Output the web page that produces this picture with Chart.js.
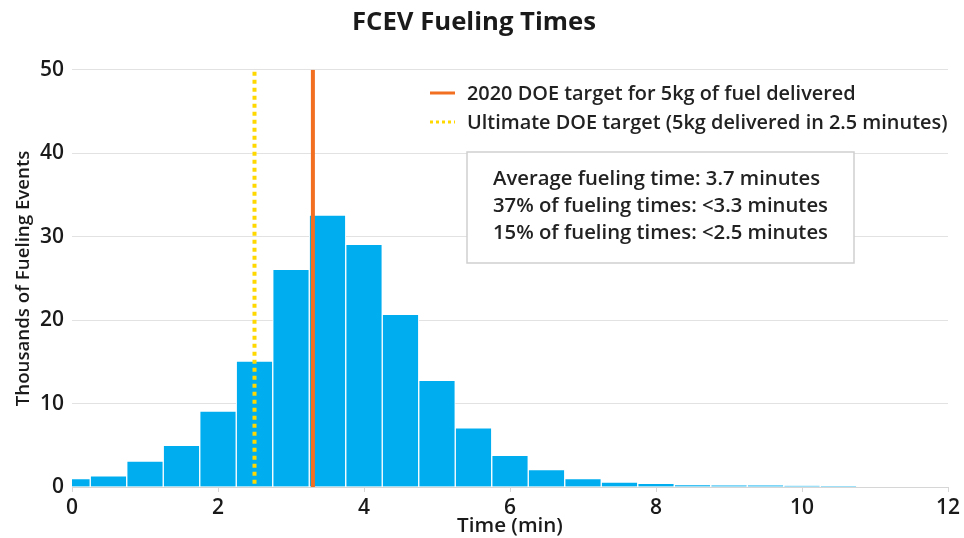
<!DOCTYPE html>
<html>
<head>
<meta charset="utf-8">
<script src="https://cdn.jsdelivr.net/npm/chart.js@4.4.1/dist/chart.umd.min.js"></script>
<style>
  html, body { margin: 0; padding: 0; background: #fff; }
  #wrap { width: 964px; height: 538px; position: relative; }
</style>
</head>
<body>
<div id="wrap"><canvas id="fuelChart"></canvas></div>
<script>
// histogram bins (minutes, bin centres) and counts (thousands of fueling events)
const binCenters = [0, 0.5, 1, 1.5, 2, 2.5, 3, 3.5, 4, 4.5, 5, 5.5, 6, 6.5, 7, 7.5, 8, 8.5, 9, 9.5, 10, 10.5];
const eventCounts = [1.0, 1.35, 3.1, 5.0, 9.1, 15.1, 26.1, 32.6, 29.1, 20.7, 12.8, 7.1, 3.8, 2.1, 1.0, 0.6, 0.45, 0.3, 0.25, 0.25, 0.15, 0.1];

const target2020 = 3.3;
const targetUltimate = 2.5;
const yRange = [0, 50];
const xRange = [0, 12];

const legendLabels = [
    '2020 DOE target for 5kg of fuel delivered',
    'Ultimate DOE target (5kg delivered in 2.5 minutes)'
];
const noteLines = [
    'Average fueling time: 3.7 minutes',
    '37% of fueling times: <3.3 minutes',
    '15% of fueling times: <2.5 minutes'
];

const ORANGE = '#f26f21';
const YELLOW = '#ffd800';
const BLUE = '#00aeef';
const FONT = '"Open Sans", Roboto, sans-serif';
const WEIGHT = '600';

// pick a font size so a text gets roughly the width it has in the original
const measureCtx = document.createElement('canvas').getContext('2d');
function fitSize(text, width, weight) {
    measureCtx.font = weight + ' 20px ' + FONT;
    return Math.round(20 * width / measureCtx.measureText(text).width * 10) / 10;
}

const titleSize = fitSize('FCEV Fueling Times', 244, 'bold');
const legendSize = fitSize(legendLabels[1], 481, WEIGHT);
const noteSize = fitSize(noteLines[1], 335, WEIGHT);
const yTitleSize = fitSize('Thousands of Fueling Events', 256, WEIGHT);
const xTitleSize = fitSize('Time (min)', 106, WEIGHT);
const tickSize = fitSize('10', 24, WEIGHT);

Chart.defaults.font.family = FONT;
Chart.defaults.font.weight = WEIGHT;
Chart.defaults.color = '#222';

// legend + stats box drawn on top of the plot
const notesPlugin = {
    id: 'notes',
    afterDraw(chart) {
        const ctx = chart.ctx;
        ctx.save();
        ctx.textBaseline = 'middle';
        ctx.textAlign = 'left';
        ctx.font = WEIGHT + ' ' + legendSize + 'px ' + FONT;
        ctx.fillStyle = '#222';

        // legend
        ctx.lineWidth = 3;
        ctx.strokeStyle = ORANGE;
        ctx.beginPath();
        ctx.moveTo(430, 93);
        ctx.lineTo(455, 93);
        ctx.stroke();
        ctx.fillText(legendLabels[0], 467, 94);

        ctx.strokeStyle = YELLOW;
        ctx.setLineDash([3, 3]);
        ctx.beginPath();
        ctx.moveTo(430, 122);
        ctx.lineTo(455, 122);
        ctx.stroke();
        ctx.setLineDash([]);
        ctx.fillText(legendLabels[1], 467, 123);

        // stats box
        ctx.fillStyle = '#fff';
        ctx.fillRect(467, 152, 387, 111);
        ctx.strokeStyle = '#cfcfcf';
        ctx.lineWidth = 1.5;
        ctx.strokeRect(467, 152, 387, 111);
        ctx.fillStyle = '#222';
        ctx.font = WEIGHT + ' ' + noteSize + 'px ' + FONT;
        noteLines.forEach(function (t, i) {
            ctx.fillText(t, 493, 179 + i * 27);
        });
        ctx.restore();
    }
};

const ctx = document.getElementById('fuelChart').getContext('2d');
const fuelChart = new Chart(ctx, {
    type: 'bar',
    data: {
        datasets: [
            {
                type: 'line',
                label: legendLabels[0],
                data: [{ x: target2020, y: yRange[0] }, { x: target2020, y: yRange[1] }],
                borderColor: ORANGE,
                borderWidth: 4,
                pointRadius: 0,
                order: 0
            },
            {
                type: 'line',
                label: legendLabels[1],
                data: [{ x: targetUltimate, y: 0.4 }, { x: targetUltimate, y: yRange[1] }],
                borderColor: YELLOW,
                borderWidth: 4,
                borderDash: [4, 4],
                borderCapStyle: 'butt',
                pointRadius: 0,
                order: 1
            },
            {
                label: 'Fueling events',
                data: binCenters.map((x, i) => ({ x: x, y: eventCounts[i] })),
                backgroundColor: BLUE,
                borderColor: '#fff',
                borderWidth: 1,
                barPercentage: 1,
                categoryPercentage: 1,
                clip: 0,
                order: 2
            }
        ]
    },
    options: {
        responsive: true,
        maintainAspectRatio: false,
        animation: false,
        layout: { padding: { left: 0, right: 16, top: 0, bottom: 0 } },
        plugins: {
            legend: { display: false },
            tooltip: { enabled: false },
            title: {
                display: true,
                text: 'FCEV Fueling Times',
                font: { size: titleSize, weight: 'bold' },
                color: '#1a1a1a',
                padding: { top: 7, bottom: 32 }
            }
        },
        scales: {
            x: {
                type: 'linear',
                min: xRange[0],
                max: xRange[1],
                offset: false,
                grid: { offset: false, drawOnChartArea: false, drawTicks: true, tickLength: 5, color: '#d6d6d6' },
                border: { color: '#d6d6d6' },
                ticks: { stepSize: 2, padding: 3, font: { size: tickSize }, color: '#1a1a1a' },
                title: {
                    display: true,
                    text: 'Time (min)',
                    font: { size: xTitleSize },
                    color: '#1a1a1a',
                    padding: { top: 0, bottom: 0 }
                },
                afterFit(scale) { scale.height = 51; }
            },
            y: {
                min: yRange[0],
                max: yRange[1],
                grid: { drawTicks: false, color: '#e2e2e2' },
                border: { display: false },
                ticks: { stepSize: 10, padding: 8, font: { size: tickSize }, color: '#1a1a1a' },
                title: {
                    display: true,
                    text: 'Thousands of Fueling Events',
                    font: { size: yTitleSize },
                    color: '#1a1a1a',
                    padding: { top: 12, bottom: 0 }
                },
                afterFit(scale) { scale.width = 72; }
            }
        }
    },
    plugins: [notesPlugin]
});
</script>
</body>
</html>
